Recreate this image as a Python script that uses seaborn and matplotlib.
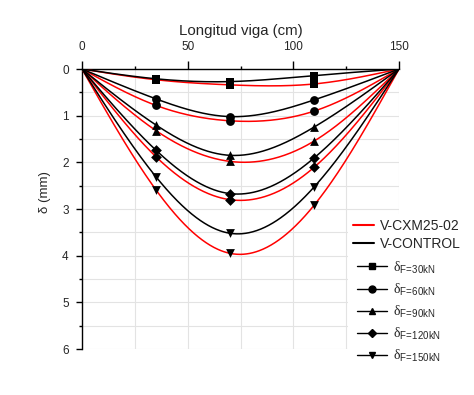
import numpy as np
import pandas as pd
import matplotlib
matplotlib.use("Agg")
import matplotlib.pyplot as plt
import seaborn as sns
from matplotlib.lines import Line2D
from matplotlib.patches import Rectangle
from matplotlib.ticker import MultipleLocator

# ---- data ----
positions = [0, 35, 70, 110, 150]          # cm along the beam
loads = ["30kN", "60kN", "90kN", "120kN", "150kN"]
load_markers = ["s", "o", "^", "D", "v"]

control_30 = [0, 0.21, 0.27, 0.14, 0]
control_60 = [0, 0.64, 1.02, 0.66, 0]
control_90 = [0, 1.20, 1.85, 1.24, 0]
control_120 = [0, 1.74, 2.67, 1.90, 0]
control_150 = [0, 2.31, 3.52, 2.52, 0]

cxm_30 = [0, 0.23, 0.34, 0.32, 0]
cxm_60 = [0, 0.78, 1.11, 0.90, 0]
cxm_90 = [0, 1.32, 1.98, 1.54, 0]
cxm_120 = [0, 1.88, 2.80, 2.10, 0]
cxm_150 = [0, 2.59, 3.95, 2.91, 0]

control_series = [control_30, control_60, control_90, control_120, control_150]
cxm_series = [cxm_30, cxm_60, cxm_90, cxm_120, cxm_150]


def natural_spline(x, y, xs):
    x = np.asarray(x, float); y = np.asarray(y, float)
    n = len(x)
    h = np.diff(x)
    A = np.zeros((n, n)); r = np.zeros(n)
    A[0, 0] = A[-1, -1] = 1
    for i in range(1, n - 1):
        A[i, i - 1] = h[i - 1]
        A[i, i] = 2 * (h[i - 1] + h[i])
        A[i, i + 1] = h[i]
        r[i] = 6 * ((y[i + 1] - y[i]) / h[i] - (y[i] - y[i - 1]) / h[i - 1])
    M = np.linalg.solve(A, r)
    out = np.empty_like(xs)
    for k, xv in enumerate(xs):
        i = min(max(np.searchsorted(x, xv, side="right") - 1, 0), n - 2)
        t1 = x[i + 1] - xv; t0 = xv - x[i]
        out[k] = (M[i] * t1 ** 3 + M[i + 1] * t0 ** 3) / (6 * h[i]) \
            + (y[i] / h[i] - M[i] * h[i] / 6) * t1 \
            + (y[i + 1] / h[i] - M[i + 1] * h[i] / 6) * t0
    return out


sns.set_style("white")
plt.rcParams["font.family"] = ["Liberation Sans", "DejaVu Sans"]
plt.rcParams["mathtext.fontset"] = "custom"
plt.rcParams["mathtext.rm"] = "Liberation Serif"
plt.rcParams["mathtext.sf"] = "Liberation Sans"

W, H = 474, 395
fig = plt.figure(figsize=(W / 100, H / 100), dpi=100)
ax = fig.add_axes([82 / W, 1 - 349 / H, (399 - 82) / W, (349 - 69) / H])

xs = np.linspace(0, 150, 400)
for series, col in ((cxm_series, "red"), (control_series, "black")):
    for vals in series:
        df = pd.DataFrame({"x": xs, "y": natural_spline(positions, vals, xs)})
        sns.lineplot(data=df, x="x", y="y", ax=ax, color=col, lw=1.1,
                     sort=False, estimator=None, zorder=3)
for series in (cxm_series, control_series):
    for mk, vals in zip(load_markers, series):
        df = pd.DataFrame({"x": positions[1:-1], "y": vals[1:-1]})
        sns.scatterplot(data=df, x="x", y="y", ax=ax, color="black", marker=mk,
                        s=40 if mk != "D" else 30, linewidth=0, zorder=4)

ax.set_xlim(0, 150)
ax.set_ylim(6, 0)
ax.xaxis.tick_top()
ax.xaxis.set_label_position("top")
ax.xaxis.set_major_locator(MultipleLocator(50))
ax.xaxis.set_minor_locator(MultipleLocator(25))
ax.yaxis.set_major_locator(MultipleLocator(1))
ax.yaxis.set_minor_locator(MultipleLocator(0.5))
ax.grid(True, which="both", color="#e3e3e3", lw=0.8, zorder=0)
ax.set_axisbelow(True)
for s in ("right", "bottom"):
    ax.spines[s].set_visible(False)
for s in ("left", "top"):
    ax.spines[s].set_color("black")
    ax.spines[s].set_linewidth(1.0)
ax.tick_params(axis="x", which="major", direction="out", length=5.5, width=1,
               color="black", labelsize=8.5, top=True, bottom=False, pad=6)
ax.tick_params(axis="y", which="major", direction="out", length=4.5, width=1,
               color="black", labelsize=8.5, left=True, pad=5)
ax.tick_params(which="minor", direction="out", length=2.5, width=1, color="black",
               top=True, bottom=False, left=True)
ax.set_xlabel("Longitud viga (cm)", fontsize=10.8, labelpad=4)
ax.set_ylabel("δ (mm)", fontsize=9.5)
ax.yaxis.set_label_coords(-0.099, 0.56)

# white panel behind the legend (covers the grid as in the reference)
fig.patches.append(Rectangle((348 / W, 1 - 372 / H), (W - 348) / W, (372 - 214) / H,
                             transform=fig.transFigure, facecolor="white",
                             edgecolor="none", zorder=2))

h1 = [Line2D([], [], color="red", lw=1.5), Line2D([], [], color="black", lw=1.5)]
l1 = ["V-CXM25-02", "V-CONTROL"]
leg1 = fig.legend(h1, l1, loc="upper left", bbox_to_anchor=(349 / W, 1 - 215 / H),
                  frameon=False, fontsize=10, handlelength=1.5, handletextpad=0.45,
                  labelspacing=0.25, borderpad=0.3, borderaxespad=0)

h2, l2 = [], []
for load, mk in zip(loads, load_markers):
    h2.append(Line2D([], [], color="black", lw=1.0, marker=mk,
                     markersize=5 if mk != "D" else 4.5))
    l2.append(r"$\mathrm{\delta}_{\mathsf{F\!=\!%s}}$" % load)
leg2 = fig.legend(h2, l2, loc="upper left", bbox_to_anchor=(353 / W, 1 - 255 / H),
                  frameon=False, fontsize=10, handlelength=2.15, handletextpad=0.4,
                  labelspacing=0.42, borderpad=0.3, borderaxespad=0)

fig.savefig("out.png", dpi=100)
